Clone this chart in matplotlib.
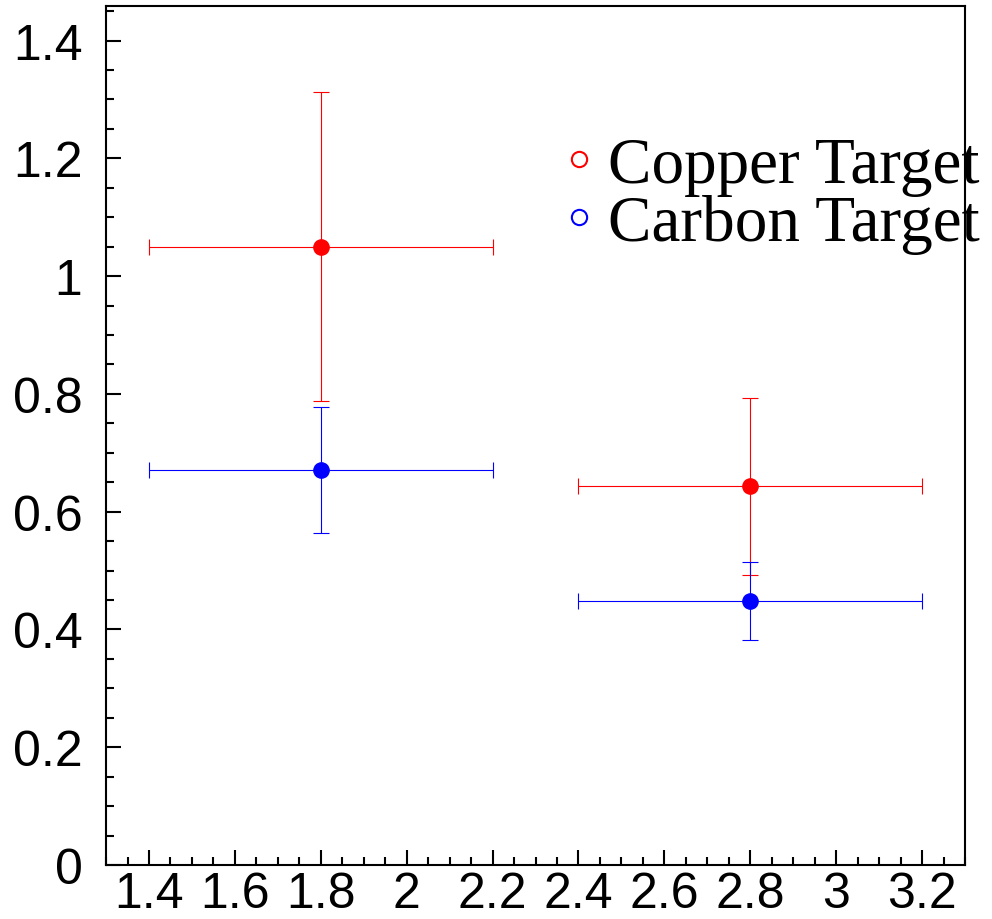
import numpy as np
import matplotlib.pyplot as plt
from matplotlib.lines import Line2D
from matplotlib.ticker import MultipleLocator

# Datos
x_vals = [1.8, 2.8]
x_err = [0.4, 0.4]
copper_y = [1.05, 0.643]
copper_err = [0.262, 0.150]
carbon_y = [0.671, 0.448]
carbon_err = [0.107, 0.066]
labels = ['Copper Target', 'Carbon Target']
colors = ['red', 'blue']

fig = plt.figure(figsize=(9.92, 9.20), dpi=100)
ax = fig.add_axes([0.1069, 0.0587, 0.8659, 0.9333])

for y, yerr, c in [(copper_y, copper_err, colors[0]), (carbon_y, carbon_err, colors[1])]:
    ax.errorbar(x_vals, y, xerr=x_err, yerr=yerr, fmt='o', color=c,
                markersize=11, elinewidth=0.8, capsize=5.5, capthick=0.8)

ax.set_xlim(1.3, 3.3)
ax.set_ylim(0, 1.458)

ax.xaxis.set_major_locator(MultipleLocator(0.2))
ax.xaxis.set_minor_locator(MultipleLocator(0.05))
ax.yaxis.set_major_locator(MultipleLocator(0.2))
ax.yaxis.set_minor_locator(MultipleLocator(0.05))

ax.xaxis.set_major_formatter(plt.FuncFormatter(lambda v, p: f'{v:g}'))
ax.yaxis.set_major_formatter(plt.FuncFormatter(lambda v, p: f'{v:g}'))

ax.tick_params(which='both', direction='in', width=1.5, top=False, right=False,
               labelsize=36)
ax.tick_params(axis='x', which='major', length=11, pad=4)
ax.tick_params(axis='y', which='major', length=11, pad=17)
ax.tick_params(which='minor', length=5.5)
for lbl in ax.get_xticklabels() + ax.get_yticklabels():
    lbl.set_family('Liberation Sans')
for s in ax.spines.values():
    s.set_linewidth(1.5)

# Leyenda con circulos abiertos
handles = [Line2D([], [], linestyle='none', marker='o', markerfacecolor='none',
                  markeredgecolor=c, markersize=11, markeredgewidth=1.5)
           for c in colors]
leg = ax.legend(handles, labels, loc='upper left', bbox_to_anchor=(0.539, 0.8487),
                frameon=False, prop={'family': 'Liberation Serif', 'size': 47},
                handlelength=0.3, handletextpad=0.3, labelspacing=-0.03,
                borderpad=0, borderaxespad=0)
leg.set_clip_on(False)

fig.savefig('out.png', dpi=100)
